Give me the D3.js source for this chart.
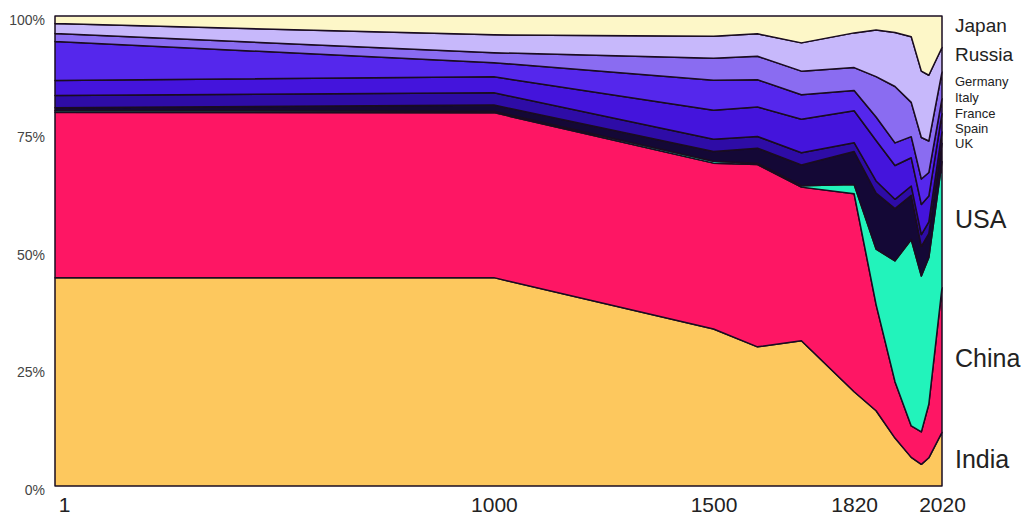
<!DOCTYPE html>
<html>
<head>
<meta charset="utf-8">
<script src="https://cdn.jsdelivr.net/npm/d3@7"></script>
<style>
body { margin: 0; background: #fff; }
text { font-family: "Liberation Sans", Arial, sans-serif; }
</style>
</head>
<body>
<div id="canvas"></div>
<script>
// data: share of the ten countries' combined GDP, in percent
const years = [1, 1000, 1500, 1600, 1700, 1820, 1870, 1913, 1950, 1973, 1990, 2020];
const countries = ["India", "China", "USA", "UK", "Spain", "France", "Italy", "Germany", "Russia", "Japan"];
const india   = [44.3, 44.2, 33.5, 29.7, 30.8, 20.1, 16.0, 10.2,  6.1,  4.6,  6.0, 11.4];
const china   = [35.2, 35.0, 35.4, 38.9, 32.6, 42.2, 22.6, 12.0,  6.7,  6.9, 11.4, 30.8];
const usa     = [ 0.4,  0.3,  0.4,  0.3,  0.3,  2.0, 11.8, 25.7, 39.7, 33.1, 31.2, 26.8];
const uk      = [ 0.6,  1.3,  2.1,  3.2,  4.4,  7.0, 11.9, 11.1,  9.4,  6.3,  5.1,  3.9];
const spain   = [ 2.6,  2.6,  2.6,  2.5,  2.6,  1.9,  2.6,  2.0,  2.0,  2.5,  2.5,  2.4];
const france  = [ 3.2,  3.4,  6.2,  6.3,  7.1,  6.8,  8.6,  7.2,  6.0,  6.4,  5.5,  3.9];
const italy   = [ 8.3,  3.0,  6.4,  5.8,  5.2,  4.3,  5.0,  4.8,  4.5,  5.4,  5.0,  3.2];
const germany = [ 1.7,  2.1,  4.7,  5.0,  5.0,  4.9,  8.6, 12.0,  7.3,  8.8,  6.7,  5.7];
const russia  = [ 2.1,  3.8,  4.7,  4.8,  6.0,  7.4,  9.9, 11.5, 14.0, 14.1, 14.0,  5.2];
const japan   = [ 1.6,  4.0,  4.3,  3.8,  5.7,  3.6,  3.0,  3.5,  4.4, 11.7, 12.6,  6.7];
const xTicks = [1, 1000, 1500, 1820, 2020];
const yTicks = [0, 0.25, 0.5, 0.75, 1];

// dimensions
const width = 1024;
const height = 516;
const margins = {top: 16, right: 82, bottom: 30, left: 55};
const dataWidth = width - margins.left - margins.right;
const dataHeight = height - margins.top - margins.bottom;

const colors = {
    India: "#fdc85e", China: "#fe1664", USA: "#22f3bb", UK: "#140836",
    Spain: "#2e0ca6", France: "#4414dc", Italy: "#5527ec", Germany: "#8a6cf1",
    Russia: "#c7b8fb", Japan: "#fdf7c8"
};

// right-hand labels: y position and font size
const labelStyle = {
    Japan: [25, 19], Russia: [54, 19], Germany: [81, 13], Italy: [97, 13],
    France: [113, 13], Spain: [128, 13], UK: [143, 13],
    USA: [219, 25], China: [358, 25], India: [459, 25]
};

var series = {India: india, China: china, USA: usa, UK: uk, Spain: spain,
              France: france, Italy: italy, Germany: germany, Russia: russia, Japan: japan};
var table = years.map(function(yr, i) {
    var row = {year: yr};
    countries.forEach(function(c) { row[c] = series[c][i]; });
    return row;
});

var svg = d3.select("#canvas").append("svg")
            .attr("width", width)
            .attr("height", height);

var dataArea = svg.append("g")
                .attr("transform", `translate(${margins.left}, ${margins.top})`);

var x = d3.scaleLinear()
    .domain([1, 2020])
    .range([0, dataWidth]);
var y = d3.scaleLinear()
    .domain([0, 1])
    .range([dataHeight, 0]);

var stacked = d3.stack()
    .keys(countries)
    .offset(d3.stackOffsetExpand)(table);

var area = d3.area()
    .x(function(d) { return x(d.data.year) })
    .y0(function(d) { return y(d[0]) })
    .y1(function(d) { return y(d[1]) });

// stacked layers
dataArea.selectAll(".layer")
    .data(stacked)
    .enter()
    .append("path")
    .attr("class", "layer")
    .attr("fill", function(d) { return colors[d.key] })
    .attr("stroke", "#1a0c20")
    .attr("stroke-width", 1.5)
    .attr("stroke-linejoin", "round")
    .attr("d", area);

// Y axis
var yAxisGroup = svg.append("g")
    .attr("transform", `translate(${margins.left - 8}, ${margins.top})`)
    .call(d3.axisLeft(y).tickValues(yTicks).tickFormat(d3.format(".0%")).tickSize(0).tickPadding(2));
yAxisGroup.select(".domain").remove();
yAxisGroup.selectAll("text")
    .attr("font-size", 14)
    .attr("fill", "#444")
    .attr("dy", "0.6em")
    .style("font-family", "'Liberation Sans', Arial, sans-serif");

// X axis
var xAxisGroup = svg.append("g")
    .attr("transform", `translate(${margins.left}, ${margins.top + dataHeight})`)
    .call(d3.axisBottom(x).tickValues(xTicks).tickFormat(d3.format("d")).tickSize(0).tickPadding(11));
xAxisGroup.select(".domain").remove();
xAxisGroup.selectAll("text")
    .attr("font-size", 21)
    .attr("fill", "#222")
    .attr("dx", function(d) { return d === 1 ? 9 : 0 })
    .style("font-family", "'Liberation Sans', Arial, sans-serif");

// country labels
svg.selectAll(".country")
    .data(countries)
    .enter()
    .append("text")
    .attr("class", "country")
    .attr("x", margins.left + dataWidth + 13)
    .attr("y", function(d) { return labelStyle[d][0] })
    .attr("dominant-baseline", "central")
    .attr("font-size", function(d) { return labelStyle[d][1] })
    .attr("fill", "#222")
    .text(function(d) { return d });
</script>
</body>
</html>
